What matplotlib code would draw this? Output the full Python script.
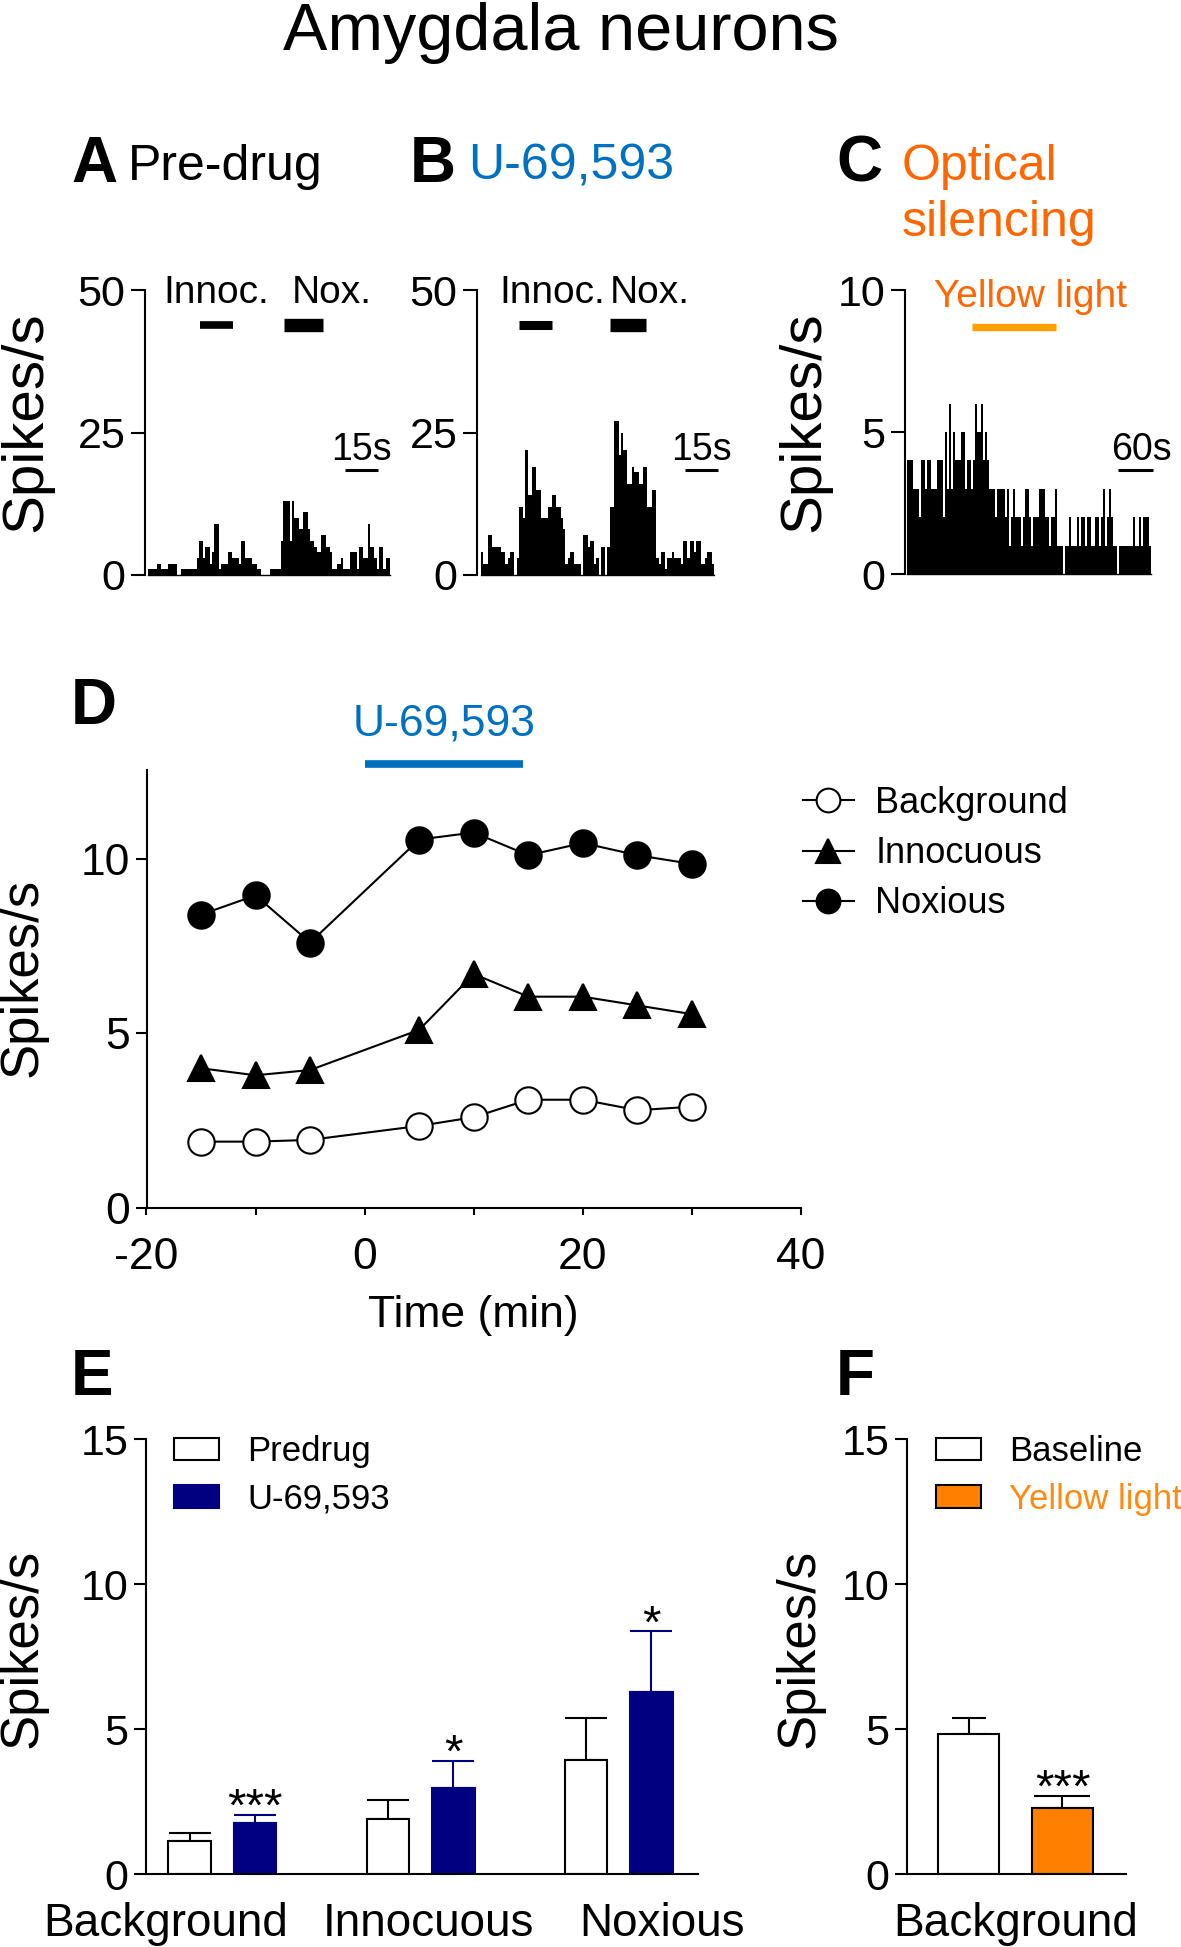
import numpy as np
import matplotlib
matplotlib.use("Agg")
import matplotlib.pyplot as plt
from matplotlib.patches import Patch

plt.rcParams["font.family"] = ["Liberation Sans", "DejaVu Sans"]
plt.rcParams["axes.unicode_minus"] = False

# ── Dados ────────────────────────────────────────────────────────────────────
# A/B: PSTH 1 s bins (spikes/s); C: bins ~3.4 s
A_counts = [1, 1, 1, 1, 2, 2, 1, 1, 1, 2, 2, 2, 2, 0, 0, 1, 1, 1, 1, 1, 1, 1, 3, 6, 6,
            3, 5, 5, 2, 4, 9, 9, 1, 2, 2, 2, 4, 4, 3, 3, 3, 2, 6, 6, 3, 3, 3, 2, 2, 1,
            1, 0, 0, 0, 0, 1, 1, 1, 1, 1, 6, 13, 13, 13, 6, 13, 10, 10, 8, 8, 11, 11,
            8, 6, 6, 5, 4, 4, 7, 7, 5, 5, 4, 1, 1, 2, 2, 3, 1, 1, 1, 4, 4, 4, 1, 5, 5,
            3, 3, 9, 5, 5, 3, 1, 5, 5, 1, 3, 3]
B_counts = [4, 2, 2, 7, 7, 5, 5, 5, 5, 4, 4, 2, 3, 4, 4, 0, 3, 12, 12, 10, 22, 14, 14,
            19, 19, 15, 15, 10, 10, 10, 12, 12, 14, 14, 12, 12, 10, 8, 2, 3, 4, 4, 2,
            2, 2, 0, 7, 7, 5, 6, 6, 2, 3, 0, 5, 5, 0, 5, 12, 12, 27, 27, 21, 25, 22,
            22, 16, 16, 19, 18, 18, 16, 16, 19, 19, 12, 12, 15, 15, 3, 2, 4, 4, 1, 3,
            3, 4, 3, 3, 3, 2, 6, 6, 3, 6, 6, 4, 6, 6, 2, 2, 3, 4, 4, 2]
C_counts = [4, 4, 4, 3, 3, 3, 2, 4, 4, 3, 4, 4, 3, 3, 3, 4, 4, 4, 2, 5, 3, 6, 3, 5,
            4, 4, 4, 5, 5, 3, 4, 4, 3, 4, 6, 5, 5, 6, 4, 5, 4, 3, 3, 3, 2, 3, 3, 3,
            3, 2, 3, 1, 2, 3, 2, 2, 2, 1, 2, 3, 3, 2, 1, 2, 2, 2, 3, 3, 3, 2, 2, 1,
            2, 2, 3, 1, 1, 1, 0, 1, 1, 2, 1, 1, 1, 2, 1, 2, 2, 1, 2, 2, 1, 1, 2, 2,
            1, 2, 3, 1, 2, 3, 2, 1, 1, 0, 1, 1, 1, 1, 1, 1, 1, 2, 1, 1, 2, 1, 2, 2,
            2, 1]
C_BIN_S = 3.43

A_INNOC, A_NOX = (23.5, 38.2), (61.4, 78.7)
B_INNOC, B_NOX = (17.3, 31.8), (58.1, 74.2)
C_LIGHT = (32.5, 74.7)

# D: curso temporal
t_min = [-15, -10, -5, 5, 10, 15, 20, 25, 30]
bg_D = [1.9, 1.9, 1.95, 2.35, 2.6, 3.1, 3.1, 2.8, 2.9]
inn_D = [4.0, 3.8, 3.95, 5.1, 6.7, 6.05, 6.05, 5.8, 5.55]
nox_D = [8.4, 8.95, 7.6, 10.55, 10.75, 10.1, 10.45, 10.1, 9.85]
drug_win = (0, 14.5)

# E: médias ± EPM
groups_E = ["Background", "Innocuous", "Noxious"]
predrug = [1.13, 1.89, 3.93]
predrug_err = [0.27, 0.67, 1.46]
u69 = [1.77, 2.97, 6.27]
u69_err = [0.26, 0.92, 2.10]
stars_E = ["***", "*", "*"]

# F
labels_F = ["Baseline", "Yellow light"]
vals_F = [4.83, 2.29]
err_F = [0.54, 0.40]
stars_F = ["", "***"]

BLUE = "#0070C0"
NAVY = "#000080"
ORANGE_T = "#FF6600"
ORANGE_L = "#FFA000"
ORANGE_F = "#FF8000"
ORANGE_F_TXT = "#FF8A10"

# ── Figura ───────────────────────────────────────────────────────────────────
W, H = 1181, 1947
fig = plt.figure(figsize=(W / 100, H / 100), dpi=100)


def ax_px(l, t, r, b):
    return fig.add_axes([l / W, 1 - b / H, (r - l) / W, (b - t) / H])


def ftext(x, y, s, **kw):
    return fig.text(x / W, 1 - y / H, s, **kw)


def style(ax, ylen=10, yfs=31):
    for s in ("top", "right"):
        ax.spines[s].set_visible(False)
    for s in ("left", "bottom"):
        ax.spines[s].set_linewidth(1.5)
    ax.tick_params(axis="y", length=ylen, width=1.5, labelsize=yfs, pad=4)


ftext(561, 50, "Amygdala neurons", fontsize=48, ha="center", va="baseline")

# cabeçalhos
ftext(71, 182, "A", fontsize=46, fontweight="bold", va="baseline")
ftext(128, 180, "Pre-drug", fontsize=36, va="baseline")
ftext(410, 182, "B", fontsize=46, fontweight="bold", va="baseline")
ftext(468, 180, "U-69,593", fontsize=36, va="baseline", color=BLUE)
ftext(836, 182, "C", fontsize=46, fontweight="bold", va="baseline")
ftext(902, 180, "Optical", fontsize=36, va="baseline", color=ORANGE_T)
ftext(902, 236, "silencing", fontsize=36, va="baseline", color=ORANGE_T)
ftext(71, 724, "D", fontsize=46, fontweight="bold", va="baseline")
ftext(71, 1395, "E", fontsize=46, fontweight="bold", va="baseline")
ftext(836, 1395, "F", fontsize=46, fontweight="bold", va="baseline")

for x, y, fs in [(26, 422, 42), (804, 422, 42), (23, 977, 38), (23, 1648, 38), (800, 1648, 38)]:
    ftext(x, y, "Spikes/s", fontsize=fs, rotation=90, ha="center", va="center")


def psth(ax, counts, ymax, yticks, xlim):
    n = len(counts)
    ax.stairs(counts, np.arange(n + 1), fill=True, color="black", linewidth=0)
    ax.set_xlim(*xlim)
    ax.set_ylim(0, ymax)
    ax.set_yticks(yticks)
    ax.set_xticks([])
    style(ax)
    ax.spines["bottom"].set_linewidth(1.0)
    ax.spines["bottom"].set_bounds(0, n)


def hbar(ax, x0, x1, y, lw, color="black"):
    ax.plot([x0, x1], [y, y], color=color, lw=lw, solid_capstyle="butt", clip_on=False)


# A
axA = ax_px(145, 290, 392, 575)
psth(axA, A_counts, 50, [0, 25, 50], (-1.2, len(A_counts) + 0.9))
hbar(axA, *A_INNOC, 43.8, 5.5)
hbar(axA, *A_NOX, 43.8, 9.6)
axA.text(sum(A_INNOC) / 2, 47.7, "Innoc.", fontsize=28, ha="center", va="baseline")
axA.text(82.7, 47.7, "Nox.", fontsize=28, ha="center", va="baseline")
hbar(axA, 88.7, 88.7 + 15, 18.4, 2.2)
axA.text(88.7 + 7.5, 20.2, "15s", fontsize=27, ha="center", va="baseline")

# B
axB = ax_px(477, 290, 716, 575)
psth(axB, B_counts, 50, [0, 25, 50], (-1.8, len(B_counts) + 0.9))
hbar(axB, *B_INNOC, 43.8, 6.5)
hbar(axB, *B_NOX, 43.8, 9.6)
axB.text(31.9, 47.7, "Innoc.", fontsize=28, ha="center", va="baseline")
axB.text(76.2, 47.7, "Nox.", fontsize=28, ha="center", va="baseline")
hbar(axB, 91.9, 91.9 + 15, 18.4, 2.2)
axB.text(91.9 + 7.5, 20.2, "15s", fontsize=27, ha="center", va="baseline")

# C
axC = ax_px(905, 290, 1151, 574)
psth(axC, C_counts, 10, [0, 5, 10], (-0.85, len(C_counts) + 0.15))
hbar(axC, *C_LIGHT, 8.7, 5.3, color=ORANGE_L)
axC.text(62, 9.41, "Yellow light", fontsize=28, ha="center", va="baseline", color=ORANGE_T)
sb = 60 / C_BIN_S
hbar(axC, 105.8, 105.8 + sb, 3.66, 2.2)
axC.text(105.8 + sb / 2 + 3, 4.0, "60s", fontsize=27, ha="center", va="baseline")

# D
axD = ax_px(146.5, 770, 801, 1208)
kw = dict(color="black", lw=1.5, ms=19, mew=1.5, clip_on=False)
lb, = axD.plot(t_min, bg_D, "-o", mfc="white", mec="black", label="Background", **kw)
li, = axD.plot(t_min, inn_D, "-^", label="Innocuous", **kw)
ln, = axD.plot(t_min, nox_D, "-o", label="Noxious", **kw)
axD.set_xlim(-20, 40)
axD.set_ylim(0, 12.54)
axD.set_yticks([0, 5, 10])
axD.set_xticks([-20, -10, 0, 10, 20, 30, 40])
axD.set_xticklabels(["-20", "", "0", "", "20", "", "40"])
style(axD, ylen=8, yfs=32)
axD.tick_params(axis="x", length=5, width=1.5, labelsize=32, pad=16)
axD.set_xlabel("Time (min)", fontsize=32, labelpad=12)
hbar(axD, *drug_win, 12.71, 5.5, color=BLUE)
axD.text(sum(drug_win) / 2, 13.54, "U-69,593", fontsize=32, ha="center", va="baseline", color=BLUE)
axD.legend(handles=[lb, li, ln], loc="upper left", bbox_to_anchor=(803 / W, 1 - 786 / H),
           bbox_transform=fig.transFigure, frameon=False, fontsize=26, handlelength=1.4,
           handletextpad=0.6, labelspacing=0.42, borderpad=0, borderaxespad=0, markerscale=0.9)

# E
axE = ax_px(146, 1439.3, 698, 1874)
xg = np.arange(len(groups_E))
off, bw = 0.165, 0.215
axE.bar(xg - off, predrug, bw, color="white", edgecolor="black", linewidth=1.5, zorder=2)
axE.bar(xg + off, u69, bw, color=NAVY, edgecolor=NAVY, linewidth=1.5, zorder=2)
axE.errorbar(xg - off, predrug, yerr=[np.zeros(3), predrug_err], fmt="none", ecolor="black",
             elinewidth=1.5, capsize=15, capthick=1.5, zorder=1)
axE.errorbar(xg + off, u69, yerr=[np.zeros(3), u69_err], fmt="none", ecolor=NAVY,
             elinewidth=1.5, capsize=15, capthick=1.5, zorder=1)
for i, s in enumerate(stars_E):
    axE.text(xg[i] + off, u69[i] + u69_err[i] - 0.2, s, fontsize=34, ha="center", va="baseline")
axE.set_xlim(-0.386, 2.40)
axE.set_ylim(0, 15)
axE.set_yticks([0, 5, 10, 15])
style(axE, ylen=8.5, yfs=31)
axE.set_xticks([-0.285, 1.038, 2.22])
axE.set_xticklabels(groups_E, fontsize=33)
axE.tick_params(axis="x", length=0, pad=20)
axE.legend(handles=[Patch(facecolor="white", edgecolor="black", lw=1.5, label="Predrug"),
                    Patch(facecolor=NAVY, edgecolor=NAVY, lw=1.5, label="U-69,593")],
           loc="upper left", bbox_to_anchor=(174 / W, 1 - 1435 / H), bbox_transform=fig.transFigure,
           frameon=False, fontsize=25, handlelength=1.3, handleheight=0.62,
           handletextpad=0.8, labelspacing=0.42, borderpad=0, borderaxespad=0)

# F
axF = ax_px(907, 1439.3, 1125.7, 1874)
xf = np.arange(len(vals_F))
axF.bar(xf, vals_F, 0.65, color=["white", ORANGE_F], edgecolor="black", linewidth=1.5, zorder=2)
for i in xf:
    axF.errorbar(xf[i], vals_F[i], yerr=[[0], [err_F[i]]], fmt="none", ecolor="black",
                 elinewidth=1.5, capsize=[12, 20][i], capthick=1.5, zorder=1)
    if stars_F[i]:
        axF.text(xf[i], vals_F[i] + err_F[i] - 0.2, stars_F[i], fontsize=34, ha="center", va="baseline")
axF.set_xlim(-0.66, 1.675)
axF.set_ylim(0, 15)
axF.set_yticks([0, 5, 10, 15])
style(axF, ylen=8.5, yfs=31)
axF.set_xticks([0.5])
axF.set_xticklabels(["Background"], fontsize=33)
axF.tick_params(axis="x", length=0, pad=20)
legF = axF.legend(handles=[Patch(facecolor="white", edgecolor="black", lw=1.5, label=labels_F[0]),
                           Patch(facecolor=ORANGE_F, edgecolor="black", lw=1.5, label=labels_F[1])],
                  loc="upper left", bbox_to_anchor=(936 / W, 1 - 1435 / H), bbox_transform=fig.transFigure,
                  frameon=False, fontsize=25, handlelength=1.3, handleheight=0.62,
                  handletextpad=0.8, labelspacing=0.42, borderpad=0, borderaxespad=0)
legF.get_texts()[1].set_color(ORANGE_F_TXT)

fig.savefig("out.png", dpi=100)
